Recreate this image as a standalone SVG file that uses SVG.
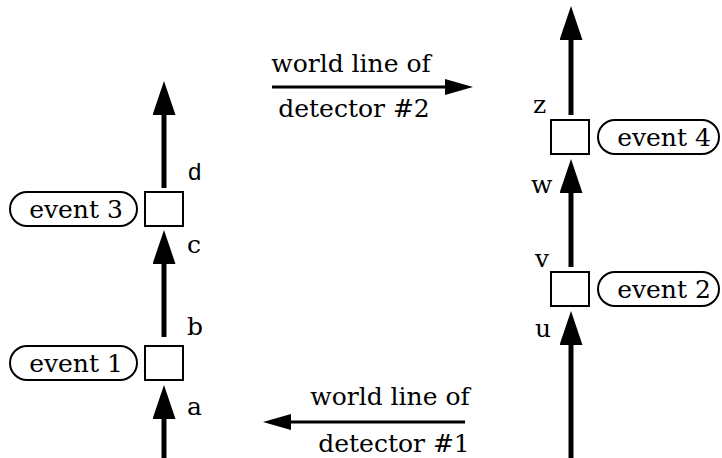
<svg xmlns="http://www.w3.org/2000/svg" width="722" height="458" viewBox="0 0 722 458">
<style>
.bg{fill:#fff}
.box{fill:#fff;stroke:#000;stroke-width:2}
.pill{fill:#fff;stroke:#000;stroke-width:2}
.t{font-family:"DejaVu Serif","Liberation Serif",serif;font-size:25px;fill:#000}
.s{font-family:"Liberation Sans",Arial,sans-serif;font-size:24px;fill:#000}
.wl{stroke:#000;stroke-width:5;fill:none}
.hl{stroke:#000;stroke-width:3;fill:none}
</style>
<defs>
<marker id="vh" markerUnits="userSpaceOnUse" markerWidth="34" markerHeight="23" viewBox="0 0 34 23" refX="0" refY="11.5" orient="auto">
<path d="M0,0 L34,11.5 L0,23 Z" fill="#000"/>
</marker>
<marker id="hh" markerUnits="userSpaceOnUse" markerWidth="28" markerHeight="16" viewBox="0 0 28 16" refX="0" refY="8" orient="auto">
<path d="M0,0 L28,8 L0,16 Z" fill="#000"/>
</marker>
</defs>
<rect class="bg" width="722" height="458"/>
<g id="connectors">
<line class="wl" x1="164" y1="458" x2="164" y2="419" marker-end="url(#vh)"/>
<line class="wl" x1="164" y1="337" x2="164" y2="264" marker-end="url(#vh)"/>
<line class="wl" x1="164" y1="188" x2="164" y2="115" marker-end="url(#vh)"/>
<line class="wl" x1="571" y1="458" x2="571" y2="345" marker-end="url(#vh)"/>
<line class="wl" x1="571" y1="267" x2="571" y2="193" marker-end="url(#vh)"/>
<line class="wl" x1="571" y1="115" x2="571" y2="40" marker-end="url(#vh)"/>
<line class="hl" x1="272" y1="87" x2="445" y2="87" marker-end="url(#hh)"/>
<line class="hl" x1="465" y1="422" x2="291" y2="422" marker-end="url(#hh)"/>
<text class="t" x="187" y="415">a</text>
<text class="t" x="187" y="335">b</text>
<text class="t" x="187" y="253">c</text>
<text class="s" x="188" y="180">d</text>
<text class="t" x="535" y="337">u</text>
<text class="t" x="535" y="267">v</text>
<text class="t" x="531" y="193">w</text>
<text class="t" x="533" y="113">z</text>
<text class="t" x="351" y="72" text-anchor="middle">world line of</text>
<text class="t" x="354" y="117" text-anchor="middle">detector #2</text>
<text class="t" x="390" y="405" text-anchor="middle">world line of</text>
<text class="t" x="394" y="452" text-anchor="middle">detector #1</text>
</g>
<g id="event1">
<rect class="box" x="145" y="346" width="38" height="34"/>
<rect class="pill" x="10" y="346" width="127" height="34" rx="17"/>
<text class="t" x="76" y="372" text-anchor="middle">event 1</text>
</g>
<g id="event3">
<rect class="box" x="145" y="192" width="38" height="34"/>
<rect class="pill" x="10" y="192" width="127" height="34" rx="17"/>
<text class="t" x="76" y="218" text-anchor="middle">event 3</text>
</g>
<g id="event2">
<rect class="box" x="551" y="272" width="38" height="34"/>
<rect class="pill" x="598" y="272" width="121" height="34" rx="17"/>
<text class="t" x="664" y="298" text-anchor="middle">event 2</text>
</g>
<g id="event4">
<rect class="box" x="551" y="120" width="38" height="34"/>
<rect class="pill" x="598" y="120" width="121" height="34" rx="17"/>
<text class="t" x="664" y="146" text-anchor="middle">event 4</text>
</g>
</svg>
